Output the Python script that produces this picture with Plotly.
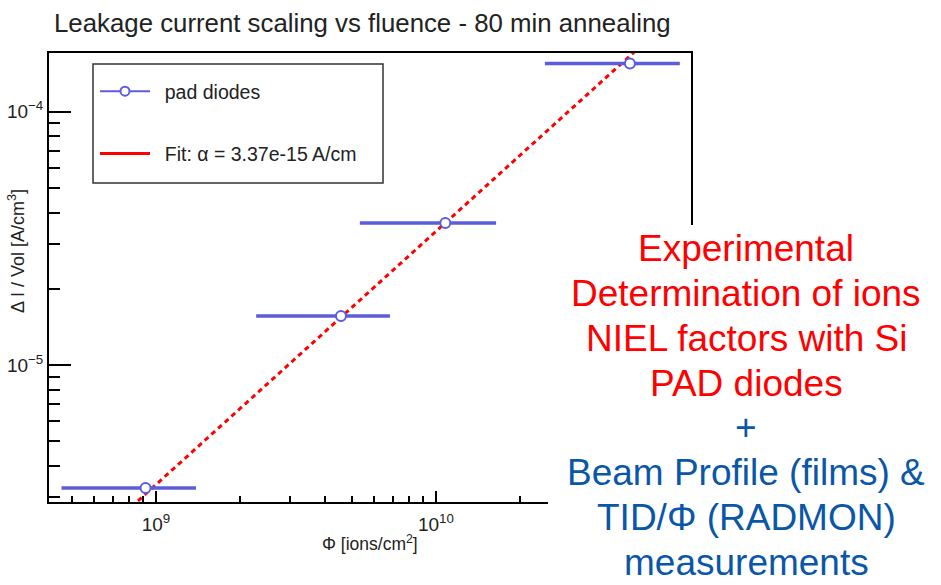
import plotly.graph_objects as go

# ---------------- data ----------------
PHI = [9.18e8, 4.58e9, 1.08e10, 4.93e10]            # fluence [ions/cm^2]
PHI_ERR_MINUS = [4.58e8, 2.30e9, 5.45e9, 2.48e10]
PHI_ERR_PLUS = [4.72e8, 2.27e9, 5.60e9, 2.50e10]
DI_VOL = [3.27e-6, 1.56e-5, 3.64e-5, 1.55e-4]        # Delta I / Vol [A/cm^3]

FIT_ALPHA = 3.37e-15                                   # A/cm
FIT_PHI_SPAN = [4.0e8, 9.0e10]

X_TICKS = [1e9, 1e10]
X_TICK_TEXT = ["10<sup>9</sup>", "10<sup>10</sup>"]
X_MINOR = [5e8, 6e8, 7e8, 8e8, 9e8, 2e9, 3e9, 4e9, 5e9, 6e9, 7e9, 8e9, 9e9,
           2e10, 3e10, 4e10, 5e10, 6e10, 7e10, 8e10]
Y_TICKS = [1e-5, 1e-4]
Y_TICK_TEXT = ["10<sup>−5</sup>", "10<sup>−4</sup>"]
Y_MINOR = [3e-6, 4e-6, 5e-6, 6e-6, 7e-6, 8e-6, 9e-6,
           2e-5, 3e-5, 4e-5, 5e-5, 6e-5, 7e-5, 8e-5, 9e-5]

TITLE = "Leakage current scaling vs fluence - 80 min annealing"
X_TITLE = "Φ [ions/cm<sup>2</sup>]"
Y_TITLE = "Δ I / Vol [A/cm<sup>3</sup>]"
LEGEND_DATA = "pad diodes"
LEGEND_FIT = "Fit: α = 3.37e-15 A/cm"

RED_LINES = ["Experimental", "Determination of ions", "NIEL factors with Si", "PAD diodes"]
BLUE_LINES = ["+", "Beam Profile (films) &", "TID/Φ (RADMON)", "measurements"]

# ---------------- style ----------------
FONT = "Liberation Sans, Arial, sans-serif"
BLUE_PTS = "rgb(92,92,222)"
RED = "#ff0000"
BLUE_TXT = "#0a57a8"
W, H = 941, 585
L, R, T, B = 49, 250, 53, 83
PW, PH = W - L - R, H - T - B


def px_x(p):
    return (p - L) / PW


def px_y(p):
    return (H - B - p) / PH


fit_y = [FIT_ALPHA * v for v in FIT_PHI_SPAN]

fig = go.Figure()

# fit line (dotted)
fig.add_trace(go.Scatter(
    x=FIT_PHI_SPAN, y=fit_y, mode="lines",
    line=dict(color=RED, width=3, dash="5px,4px"),
    showlegend=False, hoverinfo="skip"))

# data points with horizontal error bars
fig.add_trace(go.Scatter(
    x=PHI, y=DI_VOL, mode="markers",
    marker=dict(symbol="circle", size=10, color="white",
                line=dict(color=BLUE_PTS, width=2)),
    error_x=dict(type="data", symmetric=False, array=PHI_ERR_PLUS,
                 arrayminus=PHI_ERR_MINUS, color=BLUE_PTS, thickness=3.5, width=0),
    showlegend=False))

# legend proxies
GAP = "\u2002"
fig.add_trace(go.Scatter(
    x=[None], y=[None], mode="lines+markers", name=GAP + LEGEND_DATA,
    legendgroup="a",
    line=dict(color=BLUE_PTS, width=2),
    marker=dict(symbol="circle", size=9, color="white",
                line=dict(color=BLUE_PTS, width=2))))
fig.add_trace(go.Scatter(
    x=[None], y=[None], mode="lines", name=GAP + LEGEND_FIT,
    legendgroup="b",
    line=dict(color=RED, width=3)))

axis_common = dict(
    type="log", showgrid=False, zeroline=False,
    showline=True, linecolor="black", linewidth=2, mirror=True,
    ticks="inside", tickcolor="black", tickwidth=1.5,
    tickfont=dict(family=FONT, size=19, color="#222"),
)

fig.update_xaxes(
    **axis_common,
    range=[8.618, 10.911],
    tickvals=X_TICKS, ticktext=X_TICK_TEXT, ticklen=11,
    ticklabelstandoff=4,
    minor=dict(tickvals=X_MINOR, ticks="inside", ticklen=6,
               tickcolor="black", tickwidth=1.5),
)
fig.update_yaxes(
    **axis_common,
    range=[-5.541, -3.768],
    tickvals=Y_TICKS, ticktext=Y_TICK_TEXT, ticklen=22,
    minor=dict(tickvals=Y_MINOR, ticks="inside", ticklen=11,
               tickcolor="black", tickwidth=1.5),
)

annotations = [
    dict(text=TITLE, xref="paper", yref="paper", x=px_x(52), y=px_y(22.5),
         xanchor="left", yanchor="middle", showarrow=False,
         font=dict(family=FONT, size=25.8, color="#222")),
    dict(text=X_TITLE, xref="paper", yref="paper", x=px_x(370), y=px_y(543),
         xanchor="center", yanchor="middle", showarrow=False,
         font=dict(family=FONT, size=17.5, color="#222")),
    dict(text=Y_TITLE, xref="paper", yref="paper", x=px_x(16.5), y=px_y(251.5),
         xanchor="center", yanchor="middle", showarrow=False, textangle=-90,
         font=dict(family=FONT, size=18, color="#222")),
]

all_lines = [(t, RED) for t in RED_LINES] + [(t, BLUE_TXT) for t in BLUE_LINES]
for i, (txt, col) in enumerate(all_lines):
    annotations.append(dict(
        text=txt, xref="paper", yref="paper", x=px_x(746), y=px_y(248.7 + 44.8 * i),
        xanchor="center", yanchor="middle", showarrow=False,
        font=dict(family=FONT, size=37, color=col)))

shapes = [
    # white panel covering lower right of the frame (text area)
    dict(type="rect", xref="paper", yref="paper", layer="above",
         x0=px_x(548), x1=px_x(W + 5), y0=px_y(H + 5), y1=px_y(225),
         fillcolor="white", line=dict(width=0)),
    # legend box
    dict(type="rect", xref="paper", yref="paper", layer="above",
         x0=px_x(93), x1=px_x(383), y0=px_y(183), y1=px_y(64),
         fillcolor="rgba(0,0,0,0)", line=dict(color="#333", width=1.5)),
]

fig.update_layout(
    width=W, height=H,
    margin=dict(l=L, r=R, t=T, b=B, autoexpand=False),
    paper_bgcolor="white", plot_bgcolor="white",
    showlegend=True,
    legend=dict(x=px_x(95), y=px_y(72), xanchor="left", yanchor="top",
                bgcolor="rgba(0,0,0,0)", borderwidth=0,
                traceorder="grouped", tracegroupgap=34, itemwidth=50,
                font=dict(family=FONT, size=19.5, color="#222")),
    annotations=annotations,
    shapes=shapes,
)

fig.write_html("out.html",
               config={"displayModeBar": False},
               post_script="document.body.style.margin='0';document.body.style.padding='0';")
